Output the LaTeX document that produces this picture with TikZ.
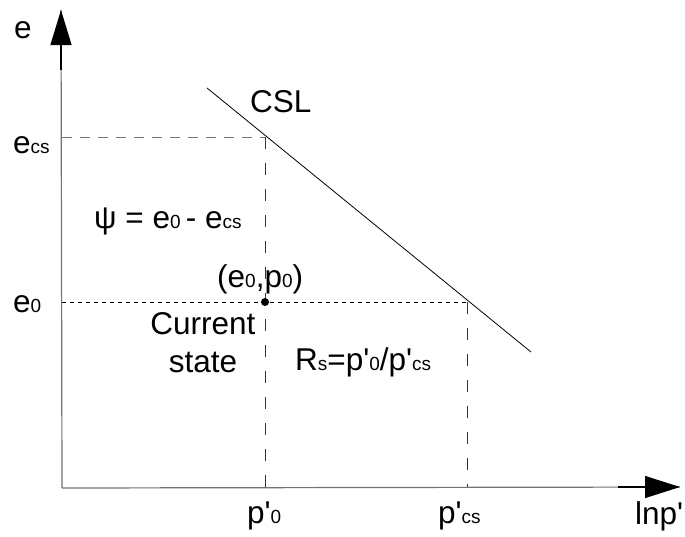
\documentclass[tikz,border=0pt]{standalone}
\usepackage{fontspec}
\newfontfamily\arial{Liberation Sans}
\usetikzlibrary{arrows.meta}
\newcommand\sbs[1]{{\fontsize{19}{19}\selectfont #1}}
\tikzset{
  lbl/.style={anchor=base west,inner sep=0pt,font=\arial\fontsize{31.5}{31.5}\selectfont},
  axis/.style={draw=black!55,line width=1.2pt},
  tipdark/.style={draw=black,line width=1.2pt},
  grid1/.style={draw=black!55,line width=1pt,dash pattern=on 10pt off 8pt},
  grid2/.style={draw=black!80,line width=0.9pt,dash pattern=on 12pt off 14pt},
  dotline/.style={draw=black,line width=0.7pt,dash pattern=on 4pt off 4pt},
  csl/.style={draw=black,line width=0.8pt}
}
\begin{document}
\begin{tikzpicture}[x=1pt,y=-1pt]
\useasboundingbox[fill=white] (0,0) rectangle (685,536);
\coordinate (O) at (62,488);
\coordinate (Ytip) at (61,10);
\coordinate (Xtip) at (680,487);
\coordinate (Ybk) at (61,70);
\coordinate (Ybk2) at (61,58);
\coordinate (Xbk) at (618,487);
\coordinate (Xbk2) at (637,487);
\coordinate (Ecs0) at (62,137);
\coordinate (Ecs) at (265,137);
\coordinate (P0) at (265,488);
\coordinate (E00) at (62,302);
\coordinate (Cs) at (467,302);
\coordinate (Pcs) at (467,488);
\coordinate (C1) at (207,88);
\coordinate (C2) at (531,352);
% grid lines
\draw[grid1] (Ecs0) -- (Ecs);
\draw[grid2] (Ecs) -- (P0);
\draw[dotline] (E00) -- (Cs);
\draw[grid2] (Cs) -- (Pcs);
% CSL
\draw[csl] (C1) -- (C2);
% axes
\draw[axis] (O) -- (Ytip);
\draw[tipdark] (Ybk) -- (Ybk2);
\draw[tipdark,-{Triangle[length=35pt,width=21pt]}] (Ybk2) -- (Ytip);
\draw[axis] (O) -- (Xtip);
\draw[tipdark] (Xbk) -- (Xbk2);
\draw[tipdark,-{Triangle[length=35pt,width=22pt]}] (Xbk2) -- (Xtip);
% point
\node[circle,fill=black,inner sep=0pt,minimum size=8pt] (pt) at (265,302) {};
% labels
\node[lbl] (le) at (14,38) {e};
\node[lbl] (lecs) at (13,153) {e\sbs{cs}};
\node[lbl] (le0) at (13,312) {e\sbs{0}};
\node[lbl] (lcsl) at (250,112) {CSL};
\node[lbl] (lpsi) at (94,228) {ψ = e\sbs{0}\,- e\sbs{cs}};
\node[lbl] (lpt) at (217,287) {(e\sbs{0},p\sbs{0})};
\node[lbl,anchor=base,align=center] (lcur) at (203,334) {Current};
\node[lbl,anchor=base] (lst) at (203,372) {state};
\node[lbl] (lrs) at (295,370) {R\sbs{s}=p'\sbs{0}/p'\sbs{cs}};
\node[lbl] (lp0) at (247,523) {p'\sbs{0}};
\node[lbl] (lpcs) at (438,523) {p'\sbs{cs}};
\node[lbl] (llnp) at (635,524) {lnp'};
\end{tikzpicture}
\end{document}
